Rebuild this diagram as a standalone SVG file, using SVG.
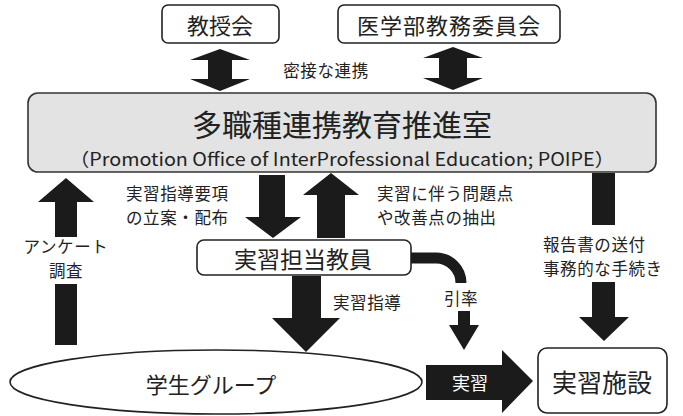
<svg xmlns="http://www.w3.org/2000/svg" width="683" height="416" viewBox="0 0 683 416">
<style>
text{font-family:"Noto Sans CJK JP","Liberation Sans",sans-serif;fill:#222;}
.c{text-anchor:middle;dominant-baseline:central;}
.l{dominant-baseline:central;}
.s{font-size:16.5px;letter-spacing:0.6px;}
.box{fill:#fff;stroke:#222;stroke-width:1.6;}
.arr{fill:#1b1b1b;stroke:none;}
</style>
<rect width="683" height="416" fill="#fff"/>
<g id="kyojukai"><rect class="box" x="162" y="5" width="117" height="38" rx="6"/><text class="c" x="220" y="24" font-size="22">教授会</text></g>
<g id="igakubu"><rect class="box" x="338" y="5" width="222" height="38" rx="6"/><text class="c" x="449" y="24" font-size="22" letter-spacing="1">医学部教務委員会</text></g>
<g id="poipe"><rect x="28" y="93" width="628" height="79" rx="10" fill="#e3e3e3" stroke="#333" stroke-width="1.6"/>
<text class="c" x="342" y="123" font-size="30">多職種連携教育推進室</text>
<text class="c" x="342" y="158" font-size="18" textLength="545" lengthAdjust="spacingAndGlyphs">（Promotion Office of InterProfessional Education; POIPE）</text></g>
<g id="tanto"><rect class="box" x="197" y="240" width="214" height="35" rx="7"/><text class="c" x="303" y="258" font-size="23">実習担当教員</text></g>
<g id="students"><ellipse cx="216" cy="382" rx="206" ry="32" fill="#fff" stroke="#222" stroke-width="1.6"/><text class="c" x="211" y="383" font-size="22">学生グループ</text></g>
<g id="shisetsu"><rect class="box" x="538" y="348" width="129" height="65" rx="9"/><text class="c" x="602" y="381" font-size="25">実習施設</text></g>
<g id="connectors">
<polygon class="arr" points="220,49 250,60 232,60 232,79 250,79 220,91 190,79 208,79 208,60 190,60"/>
<polygon class="arr" points="453,47 483,58 467,58 467,78 483,78 453,90 423,78 439,78 439,58 423,58"/>
<text class="c s" x="326" y="70">密接な連携</text>
<polygon class="arr" points="66,178 94,202 77,202 77,237 55,237 55,202 38,202"/>
<rect class="arr" x="55" y="284" width="22" height="61"/>
<text class="c s" x="66" y="246">アンケート</text>
<text class="c s" x="66" y="270">調査</text>
<polygon class="arr" points="259,175 285,175 285,217 301,217 273,238 245,217 259,217"/>
<polygon class="arr" points="331,173 359,195 345,195 345,238 317,238 317,195 303,195"/>
<text class="l s" x="126" y="193">実習指導要項</text>
<text class="l s" x="126" y="217">の立案・配布</text>
<text class="l s" x="377" y="193">実習に伴う問題点</text>
<text class="l s" x="377" y="217">や改善点の抽出</text>
<rect class="arr" x="592" y="173" width="23" height="52"/>
<polygon class="arr" points="592,282 615,282 615,317 629,317 604,341 579,317 592,317"/>
<text class="l s" x="543" y="244">報告書の送付</text>
<text class="l s" x="543" y="268">事務的な手続き</text>
<polygon class="arr" points="292,276 321,276 321,318 340,318 306,352 272,318 292,318"/>
<text class="l s" x="333" y="302">実習指導</text>
<path d="M411,258 H436 A25,25 0 0 1 461,283" fill="none" stroke="#1b1b1b" stroke-width="11"/>
<text class="l s" x="444" y="298">引率</text>
<polygon class="arr" points="458,311 470,311 470,325 479,325 464,350 449,325 458,325"/>
<polygon class="arr" points="426,365 502,365 502,350 533,381 502,413 502,400 426,400"/>
<text class="c" x="470" y="382" font-size="18" style="fill:#fff">実習</text>
</g>
</svg>
